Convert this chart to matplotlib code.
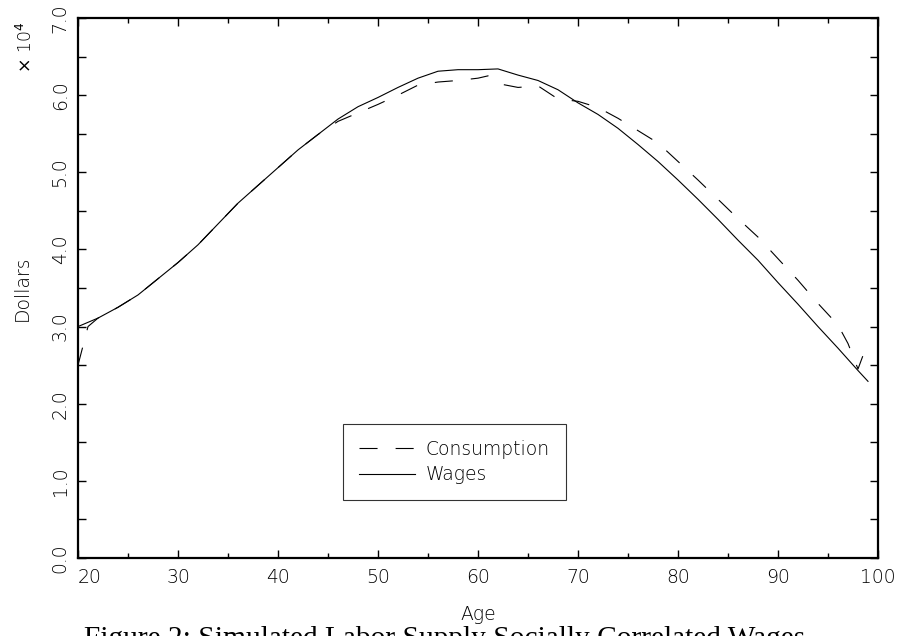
import matplotlib
matplotlib.use('Agg')
import matplotlib.pyplot as plt
from matplotlib.ticker import MultipleLocator, FixedLocator

plt.rcParams['lines.scale_dashes'] = False

# life-cycle profiles, dollars in units of 10^4
wage_age = [20, 22, 24, 26, 28, 30, 32, 34, 36, 38, 40, 42, 44, 46, 48, 50, 52, 54, 56, 58,
            60, 62, 64, 66, 68, 70, 72, 74, 76, 78, 80, 82, 84, 86, 88, 90, 92, 94, 96, 98, 99]
wages = [3.00, 3.11, 3.25, 3.41, 3.62, 3.83, 4.06, 4.33, 4.60, 4.83, 5.06, 5.29, 5.49, 5.69,
         5.85, 5.97, 6.10, 6.22, 6.31, 6.33, 6.33, 6.34, 6.26, 6.19, 6.07, 5.90, 5.75, 5.57,
         5.36, 5.14, 4.90, 4.65, 4.39, 4.12, 3.86, 3.57, 3.29, 3.00, 2.72, 2.43, 2.29]

cons_age = [20, 21, 22, 24, 26, 28, 30, 32, 34, 36, 38, 40, 42, 44, 46, 48, 50, 52, 54, 56, 58,
            60, 61, 62, 64, 66, 68, 70, 72, 74, 76, 78, 80, 82, 84, 86, 88, 90, 92, 94, 96, 97,
            98, 99]
consumption = [2.50, 3.00, 3.11, 3.25, 3.41, 3.62, 3.83, 4.06, 4.33, 4.60, 4.83, 5.06, 5.29,
               5.49, 5.66, 5.77, 5.88, 6.00, 6.13, 6.17, 6.19, 6.22, 6.25, 6.15, 6.10, 6.12,
               5.95, 5.92, 5.84, 5.70, 5.54, 5.38, 5.14, 4.90, 4.65, 4.40, 4.16, 3.88, 3.60,
               3.30, 3.02, 2.78, 2.45, 2.80]

x_ticks = [20, 30, 40, 50, 60, 70, 80, 90, 100]
y_ticks = [0, 1, 2, 3, 4, 5, 6, 7]

font = {'family': 'DejaVu Sans', 'weight': 'light'}

fig = plt.figure(figsize=(9.04, 6.36), dpi=100)
ax = fig.add_axes([78 / 904, 1 - 558 / 636, 800 / 904, 540 / 636])

ax.plot(cons_age, consumption, color='black', lw=0.8, dashes=(13, 13), label='Consumption')
ax.plot(wage_age, wages, color='black', lw=0.8, label='Wages')

ax.set_xlim(20, 100)
ax.set_ylim(0, 7)
for sp in ax.spines.values():
    sp.set_linewidth(1.6)

ax.xaxis.set_major_locator(FixedLocator(x_ticks))
ax.xaxis.set_minor_locator(MultipleLocator(5))
ax.yaxis.set_major_locator(FixedLocator(y_ticks))
ax.yaxis.set_minor_locator(MultipleLocator(0.5))
ax.tick_params(which='both', direction='in', top=True, right=True, width=1)
ax.tick_params(axis='x', which='major', length=6, pad=7)
ax.tick_params(axis='x', which='minor', length=3.6)
ax.tick_params(axis='y', which='both', length=6, pad=6)

ax.set_xticklabels([str(t) for t in x_ticks], fontsize=13.5, **font)
ax.set_yticklabels(['%.1f' % t for t in y_ticks], fontsize=13.5, rotation=90,
                   va='center', **font)
ax.get_xticklabels()[0].set_horizontalalignment('left')

fig.text(22 / 904, 1 - 288 / 636, 'Dollars', rotation=90, ha='center', va='center',
         fontsize=13.5, **font)
fig.text(26 / 904, 1 - 47 / 636, r'$\times$ 10$^4$', rotation=90, ha='center', va='center',
         fontsize=12.5, **font)
fig.text(478 / 904, 1 - 615 / 636, 'Age', ha='center', va='center', fontsize=13.5, **font)
fig.text(84 / 904, 1 - 626 / 636, 'Figure 2: Simulated Labor Supply Socially Correlated Wages',
         ha='left', va='top', fontsize=21.2, family='Liberation Serif')

leg = ax.legend(loc='upper left', bbox_to_anchor=(265 / 800, 134 / 540), borderaxespad=0,
                frameon=True, fancybox=False, handlelength=3.0, handletextpad=0.55,
                borderpad=0.85, labelspacing=0.35,
                prop={'size': 13.5, 'family': 'DejaVu Sans', 'weight': 'light'})
leg.get_frame().set_edgecolor('black')
leg.get_frame().set_linewidth(0.8)

fig.savefig('out.png', dpi=100)
